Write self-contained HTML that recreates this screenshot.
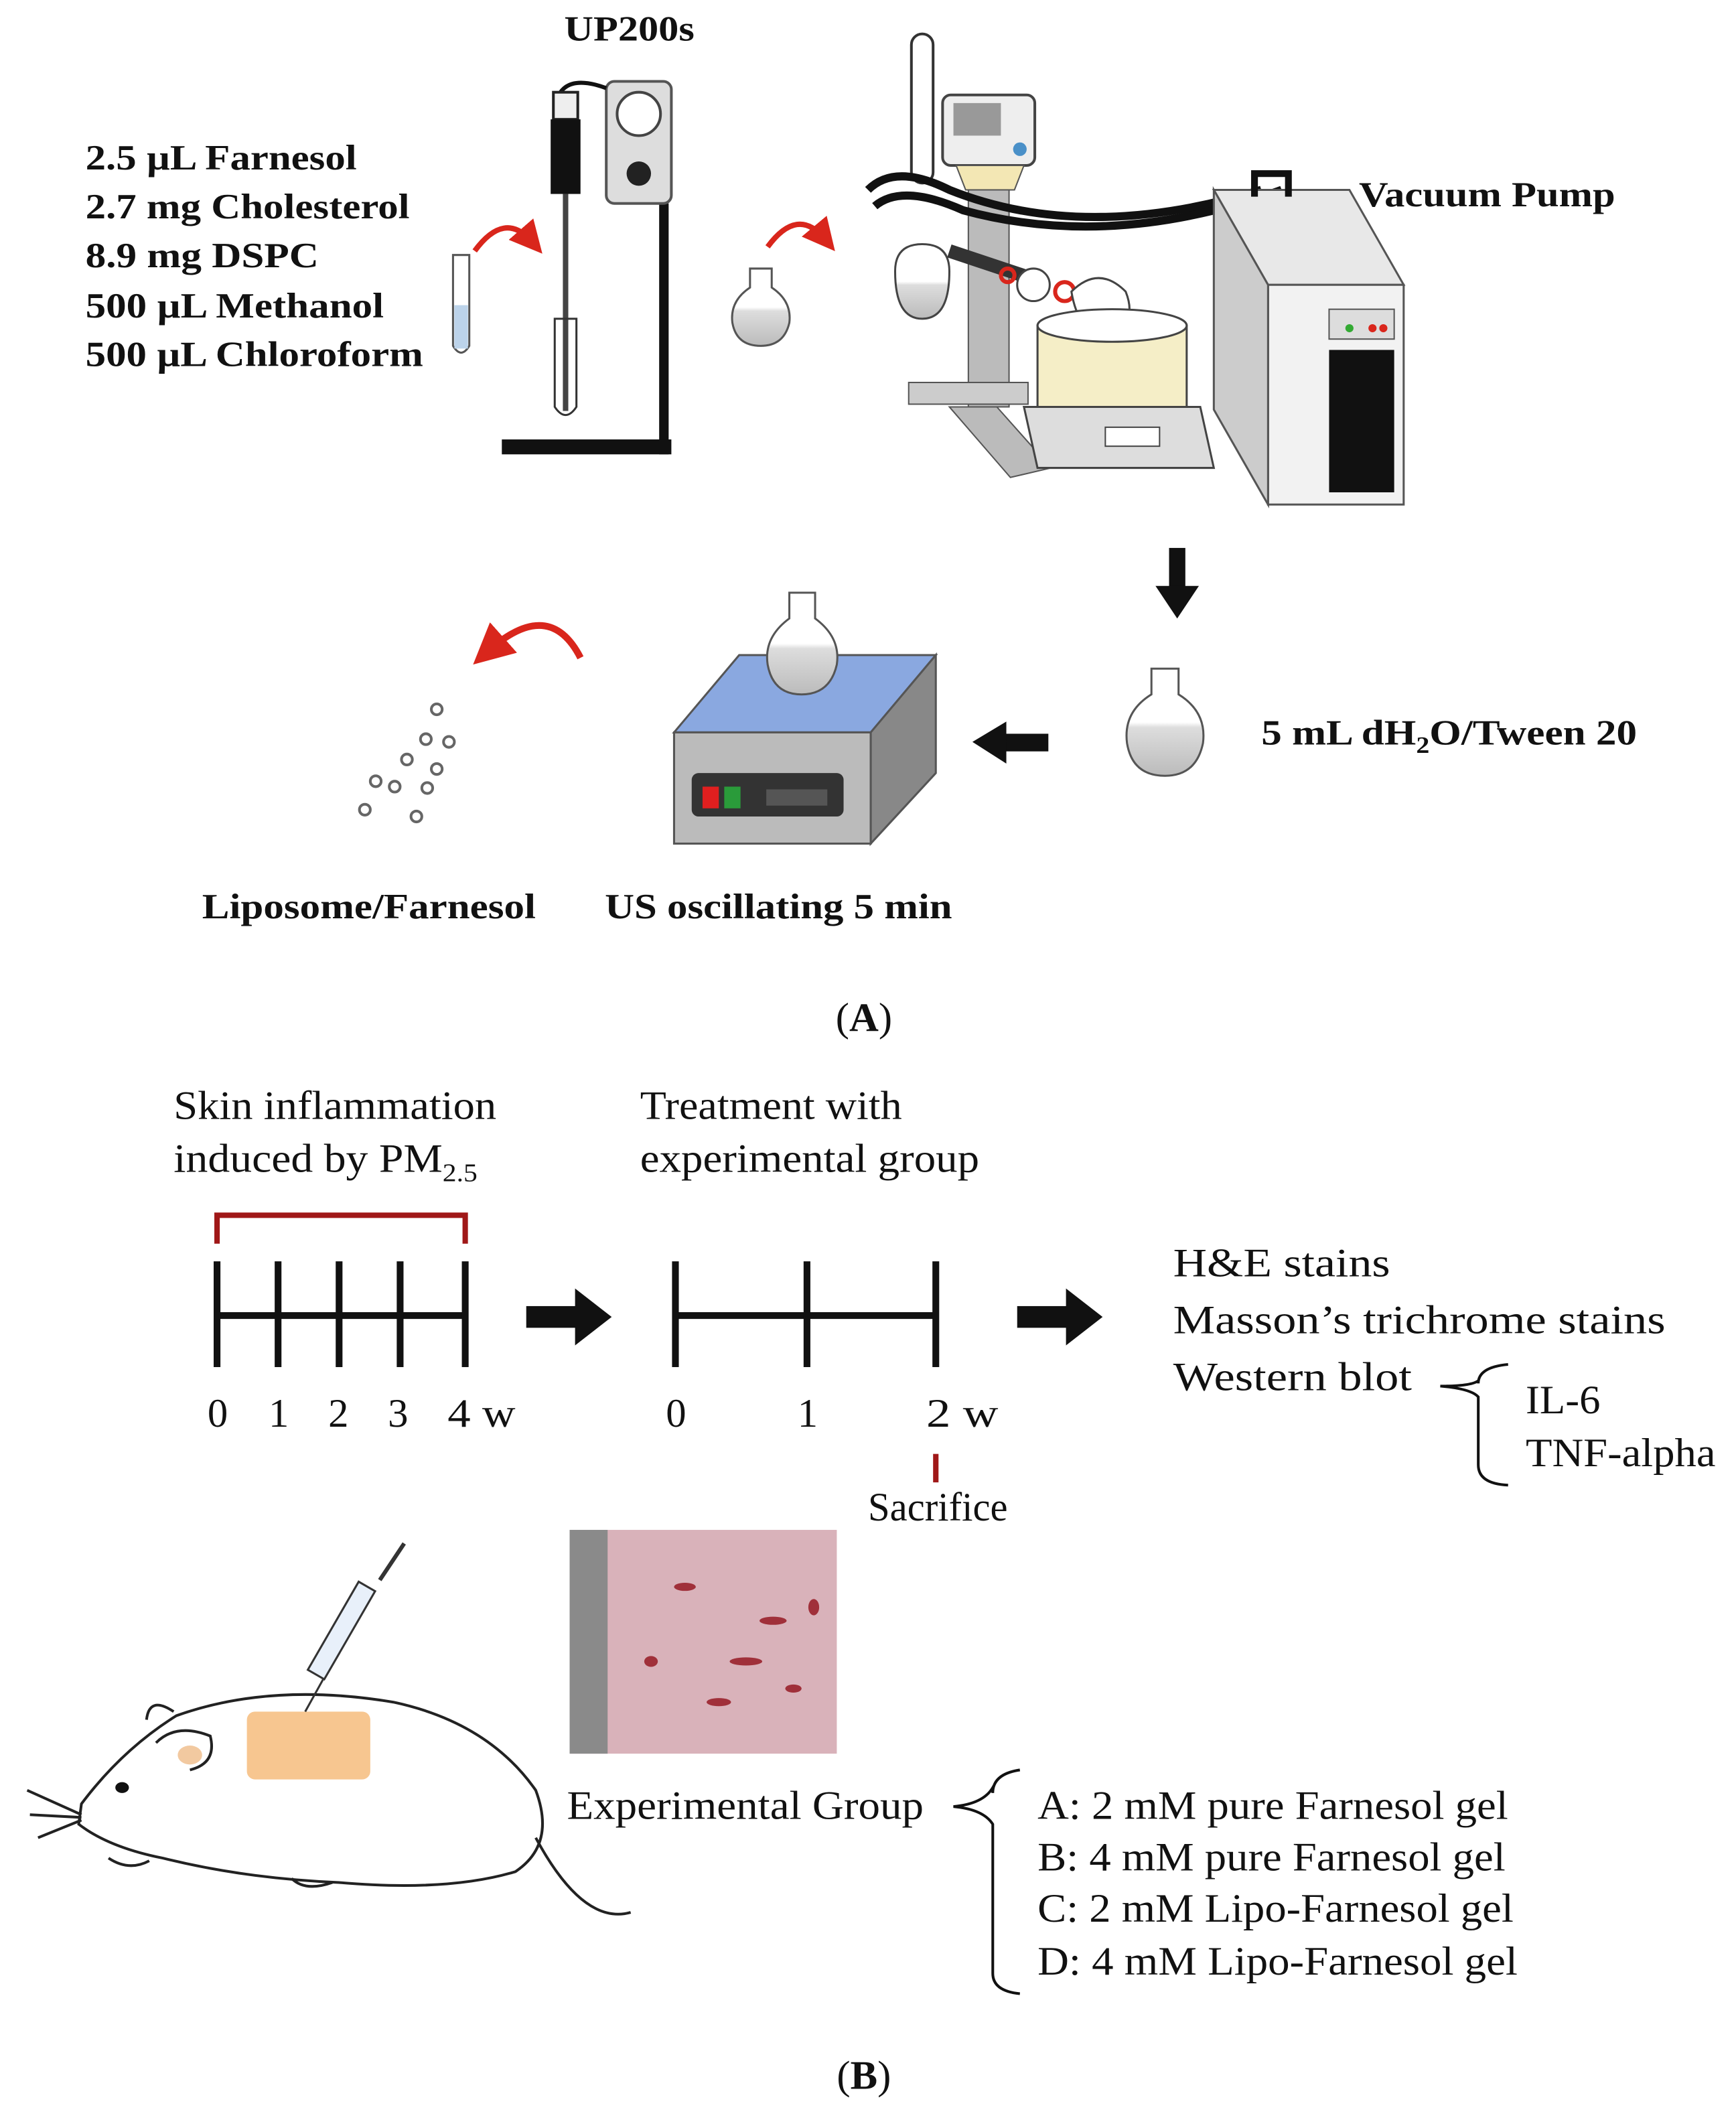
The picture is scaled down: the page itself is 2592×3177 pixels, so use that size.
<!DOCTYPE html>
<html><head><meta charset="utf-8"><style>
html,body{margin:0;padding:0;background:#fff}
svg{display:block}
.b{font-family:"Liberation Serif",serif;font-weight:bold;font-size:26px;fill:#111}
.r{font-family:"Liberation Serif",serif;font-size:30px;fill:#111}
</style></head><body>
<svg width="2592" height="3177" viewBox="0 0 1280 1569" xmlns="http://www.w3.org/2000/svg">
<defs>
<marker id="rh" markerWidth="6" markerHeight="6" refX="3" refY="3" orient="auto"><path d="M0,0 L6,3 L0,6z" fill="#d9261c"/></marker>
<linearGradient id="flask" x1="0" y1="0" x2="0" y2="1"><stop offset="0.5" stop-color="#fff"/><stop offset="0.55" stop-color="#ddd"/><stop offset="1" stop-color="#bbb"/></linearGradient>
</defs>
<text class="b" x="416" y="30" font-size="25" textLength="96" lengthAdjust="spacingAndGlyphs">UP200s</text>
<text class="b" x="63" y="125" textLength="200" lengthAdjust="spacingAndGlyphs">2.5 µL Farnesol</text>
<text class="b" x="63" y="161" textLength="239" lengthAdjust="spacingAndGlyphs">2.7 mg Cholesterol</text>
<text class="b" x="63" y="197" textLength="172" lengthAdjust="spacingAndGlyphs">8.9 mg DSPC</text>
<text class="b" x="63" y="234" textLength="220" lengthAdjust="spacingAndGlyphs">500 µL Methanol</text>
<text class="b" x="63" y="270" textLength="249" lengthAdjust="spacingAndGlyphs">500 µL Chloroform</text>
<text class="b" x="1002" y="152" textLength="189" lengthAdjust="spacingAndGlyphs">Vacuum Pump</text>
<path d="M350,185 Q372,155 392,178" stroke="#d9261c" stroke-width="4" fill="none" marker-end="url(#rh)"/>
<path d="M566,182 Q588,152 608,176" stroke="#d9261c" stroke-width="4" fill="none" marker-end="url(#rh)"/>
<path d="M428,485 Q405,440 360,480" stroke="#d9261c" stroke-width="5" fill="none" marker-end="url(#rh)"/>
<path d="M334,188 L346,188 L346,255 Q340,265 334,255Z" fill="#fff" stroke="#555" stroke-width="1.5"/>
<rect x="335" y="225" width="10" height="32" fill="#bcd3ea"/>
<rect x="486" y="150" width="7" height="185" fill="#111"/>
<rect x="370" y="324" width="125" height="11" fill="#111"/>
<rect x="447" y="60" width="48" height="90" rx="6" fill="#ddd" stroke="#555" stroke-width="2"/>
<circle cx="471" cy="84" r="16" fill="#fff" stroke="#444" stroke-width="2"/>
<circle cx="471" cy="128" r="9" fill="#222"/>
<path d="M412,70 Q420,55 447,65" stroke="#111" stroke-width="3" fill="none"/>
<rect x="408" y="68" width="18" height="20" fill="#eee" stroke="#222" stroke-width="2"/>
<rect x="406" y="88" width="22" height="55" fill="#111"/>
<rect x="415" y="143" width="4" height="160" fill="#444"/>
<path d="M409,235 L425,235 L425,300 Q417,312 409,300Z" fill="none" stroke="#333" stroke-width="1.5"/>
<path d="M553,198 L569,198 L569,212 Q584,222 582,238 Q578,255 561,255 Q543,255 540,238 Q538,222 553,212Z" fill="url(#flask)" stroke="#555" stroke-width="1.5"/>
<rect x="672" y="25" width="16" height="110" rx="8" fill="#fff" stroke="#333" stroke-width="2"/>
<rect x="695" y="70" width="68" height="52" rx="6" fill="#eee" stroke="#444" stroke-width="2"/>
<rect x="703" y="76" width="35" height="24" fill="#999"/>
<circle cx="752" cy="110" r="5" fill="#4a90c8"/>
<path d="M705,122 L755,122 L748,140 L712,140Z" fill="#f3e7b4" stroke="#555"/>
<rect x="714" y="140" width="30" height="160" fill="#bbb" stroke="#555"/>
<rect x="670" y="282" width="88" height="16" fill="#ccc" stroke="#555"/>
<path d="M700,300 L735,300 L775,345 L745,352Z" fill="#bbb" stroke="#555"/>
<path d="M640,140 Q660,120 700,140 Q800,180 930,140" stroke="#111" stroke-width="6" fill="none"/>
<path d="M645,152 Q665,135 710,155 Q820,185 945,140" stroke="#111" stroke-width="6" fill="none"/>
<path d="M660,200 Q660,180 680,180 Q700,180 700,200 Q700,235 680,235 Q660,235 660,200Z" fill="url(#flask)" stroke="#444" stroke-width="1.5"/>
<path d="M700,185 L760,205" stroke="#333" stroke-width="10"/>
<circle cx="743" cy="203" r="5" fill="none" stroke="#d9261c" stroke-width="3"/>
<circle cx="762" cy="210" r="12" fill="#fff" stroke="#444" stroke-width="1.5"/>
<circle cx="785" cy="215" r="7" fill="none" stroke="#d9261c" stroke-width="3"/>
<path d="M790,215 Q810,195 830,215 Q840,240 815,250 Q795,245 790,215Z" fill="url(#flask)" stroke="#444" stroke-width="1.5"/>
<path d="M765,240 L875,240 L875,300 L765,300Z" fill="#f5eec7" stroke="#444" stroke-width="1.5"/>
<ellipse cx="820" cy="240" rx="55" ry="12" fill="#fff" stroke="#444" stroke-width="1.5"/>
<path d="M755,300 L885,300 L895,345 L765,345Z" fill="#ddd" stroke="#444" stroke-width="1.5"/>
<rect x="815" y="315" width="40" height="14" fill="#fff" stroke="#444"/>
<path d="M895,140 L995,140 L1035,210 L935,210Z" fill="#e8e8e8" stroke="#555" stroke-width="1.5"/>
<rect x="935" y="210" width="100" height="162" fill="#f2f2f2" stroke="#555" stroke-width="1.5"/>
<path d="M895,140 L935,210 L935,372 L895,302Z" fill="#ccc" stroke="#555" stroke-width="1.5"/>
<rect x="980" y="228" width="48" height="22" fill="#ddd" stroke="#555"/>
<circle cx="1012" cy="242" r="3" fill="#d9261c"/><circle cx="1020" cy="242" r="3" fill="#d9261c"/><circle cx="995" cy="242" r="3" fill="#3a3"/>
<rect x="980" y="258" width="48" height="105" fill="#111"/>
<path d="M925,145 L925,128 L950,128 L950,145" stroke="#111" stroke-width="5" fill="none"/>
<rect x="862" y="404" width="12" height="30" fill="#111"/>
<path d="M852,432 L884,432 L868,456Z" fill="#111"/>
<path d="M849,493 L869,493 L869,512 Q890,525 887,548 Q882,572 859,572 Q835,572 831,548 Q828,525 849,512Z" fill="url(#flask)" stroke="#555" stroke-width="1.5"/>
<text class="b" x="930" y="549" textLength="277" lengthAdjust="spacingAndGlyphs">5 mL dH<tspan font-size="17" dy="6">2</tspan><tspan dy="-6">O/Tween 20</tspan></text>
<rect x="740" y="541" width="33" height="13" fill="#111"/>
<path d="M742,532 L742,563 L717,547Z" fill="#111"/>
<path d="M497,540 L545,483 L690,483 L642,540Z" fill="#8aa8e0" stroke="#555" stroke-width="1.5"/>
<path d="M642,540 L690,483 L690,570 L642,622Z" fill="#888" stroke="#555" stroke-width="1.5"/>
<rect x="497" y="540" width="145" height="82" fill="#bbb" stroke="#555" stroke-width="1.5"/>
<rect x="510" y="570" width="112" height="32" rx="5" fill="#333"/>
<rect x="518" y="580" width="12" height="16" fill="#e01f1f"/><rect x="534" y="580" width="12" height="16" fill="#2a9b3a"/>
<rect x="565" y="582" width="45" height="12" fill="#555"/>
<path d="M582,437 L601,437 L601,456 Q620,470 617,490 Q612,512 591,512 Q570,512 566,490 Q563,470 582,456Z" fill="url(#flask)" stroke="#555" stroke-width="1.5"/>
<g fill="#fff" stroke="#666" stroke-width="2">
<circle cx="322" cy="523" r="4"/><circle cx="314" cy="545" r="4"/><circle cx="331" cy="547" r="4"/><circle cx="300" cy="560" r="4"/><circle cx="322" cy="567" r="4"/><circle cx="277" cy="576" r="4"/><circle cx="291" cy="580" r="4"/><circle cx="315" cy="581" r="4"/><circle cx="269" cy="597" r="4"/><circle cx="307" cy="602" r="4"/></g>
<text class="b" x="149" y="677" textLength="246" lengthAdjust="spacingAndGlyphs">Liposome/Farnesol</text>
<text class="b" x="446" y="677" textLength="256" lengthAdjust="spacingAndGlyphs">US oscillating 5 min</text>
<text class="r" x="637" y="760" text-anchor="middle" font-size="34">(<tspan font-weight="bold">A</tspan>)</text>
<text class="r" x="128" y="825" textLength="238" lengthAdjust="spacingAndGlyphs">Skin inflammation</text>
<text class="r" x="128" y="864" textLength="224" lengthAdjust="spacingAndGlyphs">induced by PM<tspan font-size="19" dy="7">2.5</tspan></text>
<text class="r" x="472" y="825" textLength="193" lengthAdjust="spacingAndGlyphs">Treatment with</text>
<text class="r" x="472" y="864" textLength="250" lengthAdjust="spacingAndGlyphs">experimental group</text>
<path d="M160,917 L160,896 L343,896 L343,917" stroke="#a01818" stroke-width="4" fill="none"/>
<g stroke="#111" stroke-width="5">
<line x1="160" y1="970" x2="343" y2="970"/>
<line x1="160" y1="930" x2="160" y2="1008"/><line x1="205" y1="930" x2="205" y2="1008"/><line x1="250" y1="930" x2="250" y2="1008"/><line x1="295" y1="930" x2="295" y2="1008"/><line x1="343" y1="930" x2="343" y2="1008"/>
<line x1="498" y1="970" x2="690" y2="970"/>
<line x1="498" y1="930" x2="498" y2="1008"/><line x1="595" y1="930" x2="595" y2="1008"/><line x1="690" y1="930" x2="690" y2="1008"/>
</g>
<text class="r" x="153" y="1052">0</text><text class="r" x="198" y="1052">1</text><text class="r" x="242" y="1052">2</text><text class="r" x="286" y="1052">3</text><text class="r" x="330" y="1052" textLength="50" lengthAdjust="spacingAndGlyphs">4 w</text>
<text class="r" x="491" y="1052">0</text><text class="r" x="588" y="1052">1</text><text class="r" x="683" y="1052" textLength="53" lengthAdjust="spacingAndGlyphs">2 w</text>
<rect x="388" y="963" width="38" height="16" fill="#111"/><path d="M424,950 L451,971 L424,992Z" fill="#111"/>
<rect x="750" y="963" width="38" height="16" fill="#111"/><path d="M786,950 L813,971 L786,992Z" fill="#111"/>
<line x1="690" y1="1072" x2="690" y2="1093" stroke="#a01818" stroke-width="4"/>
<text class="r" x="640" y="1121" font-size="28" textLength="103" lengthAdjust="spacingAndGlyphs">Sacrifice</text>
<text class="r" x="865" y="941" textLength="160" lengthAdjust="spacingAndGlyphs">H&amp;E stains</text>
<text class="r" x="865" y="983" textLength="363" lengthAdjust="spacingAndGlyphs">Masson’s trichrome stains</text>
<text class="r" x="865" y="1025" textLength="176" lengthAdjust="spacingAndGlyphs">Western blot</text>
<path d="M1112,1006 Q1090,1008 1090,1020 L1090,1018 Q1085,1022 1062,1022 Q1085,1024 1090,1030 L1090,1080 Q1090,1094 1112,1095" stroke="#111" stroke-width="2" fill="none"/>
<text class="r" x="1125" y="1042" textLength="55" lengthAdjust="spacingAndGlyphs">IL-6</text>
<text class="r" x="1125" y="1081" textLength="140" lengthAdjust="spacingAndGlyphs">TNF-alpha</text>
<rect x="420" y="1128" width="197" height="165" fill="#d9b2ba"/>
<rect x="420" y="1128" width="28" height="165" fill="#8a8a8a"/>
<g fill="#a0303a"><ellipse cx="505" cy="1170" rx="8" ry="3"/><ellipse cx="570" cy="1195" rx="10" ry="3"/><ellipse cx="550" cy="1225" rx="12" ry="3"/><ellipse cx="480" cy="1225" rx="5" ry="4"/><ellipse cx="585" cy="1245" rx="6" ry="3"/><ellipse cx="530" cy="1255" rx="9" ry="3"/><ellipse cx="600" cy="1185" rx="4" ry="6"/></g>
<g stroke="#222" stroke-width="2" fill="none">
<path d="M60,1330 Q90,1290 130,1265 Q200,1240 290,1255 Q360,1270 395,1320 Q410,1360 380,1380 Q330,1395 250,1388 Q180,1385 120,1370 Q80,1362 58,1345Z" fill="#fff"/>
<path d="M108,1268 Q110,1250 128,1262"/>
<path d="M115,1285 Q130,1270 155,1280 Q160,1300 140,1305"/>
<path d="M395,1355 Q430,1420 465,1410"/>
<path d="M60,1338 L20,1320 M60,1340 L22,1338 M60,1342 L28,1355"/>
<path d="M80,1370 Q95,1380 110,1372 M215,1385 Q225,1395 245,1388"/>
</g>
<ellipse cx="140" cy="1294" rx="9" ry="7" fill="#f2c9a0"/>
<ellipse cx="90" cy="1318" rx="5" ry="4" fill="#111"/>
<rect x="182" y="1262" width="91" height="50" rx="6" fill="#f7c690"/>
<line x1="225" y1="1262" x2="240" y2="1235" stroke="#333" stroke-width="1.5"/>
<rect x="246" y="1165" width="14" height="75" fill="#e8f0fa" stroke="#333" stroke-width="1.5" transform="rotate(30 253 1200)"/>
<line x1="280" y1="1165" x2="298" y2="1138" stroke="#333" stroke-width="3"/>
<text class="r" x="418" y="1341" textLength="263" lengthAdjust="spacingAndGlyphs">Experimental Group</text>
<path d="M752,1305 Q732,1308 732,1322 L732,1318 Q725,1330 703,1332 Q725,1334 732,1345 L732,1455 Q732,1468 752,1470" stroke="#111" stroke-width="2" fill="none"/>
<text class="r" x="765" y="1341" textLength="347" lengthAdjust="spacingAndGlyphs">A: 2 mM pure Farnesol gel</text>
<text class="r" x="765" y="1379" textLength="345" lengthAdjust="spacingAndGlyphs">B: 4 mM pure Farnesol gel</text>
<text class="r" x="765" y="1417" textLength="351" lengthAdjust="spacingAndGlyphs">C: 2 mM Lipo-Farnesol gel</text>
<text class="r" x="765" y="1456" textLength="354" lengthAdjust="spacingAndGlyphs">D: 4 mM Lipo-Farnesol gel</text>
<text class="r" x="637" y="1540" text-anchor="middle" font-size="34">(<tspan font-weight="bold">B</tspan>)</text>
</svg>
</body></html>
